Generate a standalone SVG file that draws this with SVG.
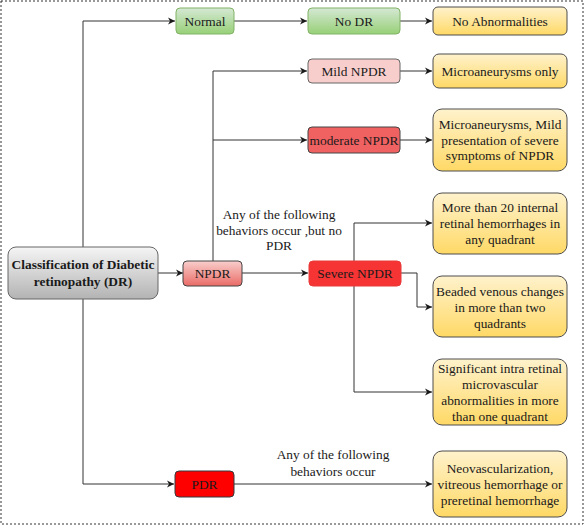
<svg xmlns="http://www.w3.org/2000/svg" width="585" height="526" viewBox="0 0 585 526">
<defs>
<linearGradient id="gGreen" x1="0" y1="0" x2="0" y2="1"><stop offset="0" stop-color="#d5e8d4"/><stop offset="1" stop-color="#97d077"/></linearGradient>
<linearGradient id="gYellow" x1="0" y1="0" x2="0" y2="1"><stop offset="0" stop-color="#fff2cc"/><stop offset="1" stop-color="#ffd966"/></linearGradient>
<linearGradient id="gGray" x1="0" y1="0" x2="0" y2="1"><stop offset="0" stop-color="#f5f5f5"/><stop offset="1" stop-color="#b3b3b3"/></linearGradient>
<linearGradient id="gPink" x1="0" y1="0" x2="0" y2="1"><stop offset="0" stop-color="#f8cecc"/><stop offset="1" stop-color="#ea6b66"/></linearGradient>
<marker id="arr" markerWidth="8" markerHeight="8" refX="7" refY="4" orient="auto" markerUnits="userSpaceOnUse">
<path d="M0,0.5 L7,4 L0,7.5 L2,4 Z" fill="#1a1a1a"/>
</marker>
<style>
text{font-family:"Liberation Serif","Times New Roman",serif;font-size:13.4px;fill:#1a1a1a;text-anchor:middle}
.b{font-weight:bold}
.c path{fill:none;stroke:#333;stroke-width:1}
.a{marker-end:url(#arr)}
.green{fill:url(#gGreen);stroke:#82b366}
.yellow{fill:url(#gYellow);stroke:#4d4d4d}
.node rect{stroke-width:1}
</style>
</defs>
<rect x="1" y="1" width="582" height="523" fill="#ffffff" stroke="#333" stroke-width="1" stroke-dasharray="2,2"/>
<g id="connectors" class="c">
<path class="a" d="M83,247 V21 H175"/>
<path class="a" d="M234,21 H307"/>
<path class="a" d="M400,21 H432"/>
<path class="a" d="M158,273 H183"/>
<path class="a" d="M213,261 V71 H307"/>
<path class="a" d="M213,140 H307"/>
<path class="a" d="M400,71 H432"/>
<path class="a" d="M400,140 H432"/>
<path class="a" d="M242,273 H308"/>
<path class="a" d="M354,261 V223 H432"/>
<path class="a" d="M354,286 V392 H432"/>
<path class="a" d="M401,273 H417 V307 H432"/>
<path class="a" d="M83,299 V484 H174"/>
<path class="a" d="M234,484 H432"/>
</g>
<g id="label-npdr">
<text x="279" y="219">Any of the following</text>
<text x="279" y="235">behaviors occur ,but no</text>
<text x="279" y="250">PDR</text>
</g>
<g id="label-pdr">
<text x="333" y="459">Any of the following</text>
<text x="333" y="476">behaviors occur</text>
</g>
<g id="root" class="node">
<rect x="8" y="247" width="150" height="52" rx="8" fill="url(#gGray)" stroke="#666"/>
<text class="b" x="83" y="269">Classification of Diabetic</text>
<text class="b" x="83" y="286">retinopathy (DR)</text>
</g>
<g id="normal" class="node">
<rect x="176" y="8" width="58" height="26" rx="4" class="green"/>
<text x="205" y="25.5">Normal</text>
</g>
<g id="nodr" class="node">
<rect x="308" y="8" width="92" height="26" rx="4" class="green"/>
<text x="354" y="25.5">No DR</text>
</g>
<g id="noabn" class="node">
<rect x="433" y="7" width="134" height="28" rx="5" class="yellow"/>
<text x="500" y="25.5">No Abnormalities</text>
</g>
<g id="mild" class="node">
<rect x="308" y="59" width="92" height="24" rx="4" fill="#f8cecc" stroke="#666"/>
<text x="354" y="75.5">Mild NPDR</text>
</g>
<g id="microonly" class="node">
<rect x="433" y="54" width="134" height="34" rx="6" class="yellow"/>
<text x="500" y="75.5">Microaneurysms only</text>
</g>
<g id="moderate" class="node">
<rect x="308" y="127" width="92" height="26" rx="4" fill="#f06161" stroke="#444"/>
<text x="354" y="144.5">moderate NPDR</text>
</g>
<g id="micromild" class="node">
<rect x="433" y="109" width="134" height="62" rx="9" class="yellow"/>
<text x="500" y="128.5">Microaneurysms, Mild</text>
<text x="500" y="144.5">presentation of severe</text>
<text x="500" y="160">symptoms of NPDR</text>
</g>
<g id="npdr" class="node">
<rect x="183" y="261" width="59" height="25" rx="4" fill="url(#gPink)" stroke="#444"/>
<text x="212.5" y="278">NPDR</text>
</g>
<g id="severe" class="node">
<rect x="309" y="261" width="92" height="25" rx="4" fill="#f63434" stroke="#e83a3a"/>
<text x="355" y="278">Severe NPDR</text>
</g>
<g id="more20" class="node">
<rect x="433" y="193" width="134" height="61" rx="9" class="yellow"/>
<text x="500" y="211.5">More than 20 internal</text>
<text x="500" y="227.5">retinal hemorrhages in</text>
<text x="500" y="243.5">any quadrant</text>
</g>
<g id="beaded" class="node">
<rect x="433" y="276" width="134" height="61" rx="9" class="yellow"/>
<text x="500" y="295.5">Beaded venous changes</text>
<text x="500" y="311.5">in more than two</text>
<text x="500" y="327.5">quadrants</text>
</g>
<g id="significant" class="node">
<rect x="433" y="359" width="134" height="66" rx="9" class="yellow"/>
<text x="500" y="372.5">Significant intra retinal</text>
<text x="500" y="388.5">microvascular</text>
<text x="500" y="404.5">abnormalities in more</text>
<text x="500" y="421">than one quadrant</text>
</g>
<g id="pdr" class="node">
<rect x="175" y="471" width="59" height="26" rx="4" fill="#ff0000" stroke="#36393d"/>
<text x="204.5" y="488.5">PDR</text>
</g>
<g id="neo" class="node">
<rect x="433" y="451" width="134" height="66" rx="9" class="yellow"/>
<text x="500" y="472.5">Neovascularization,</text>
<text x="500" y="488.5">vitreous hemorrhage or</text>
<text x="500" y="504.5">preretinal hemorrhage</text>
</g>
</svg>
